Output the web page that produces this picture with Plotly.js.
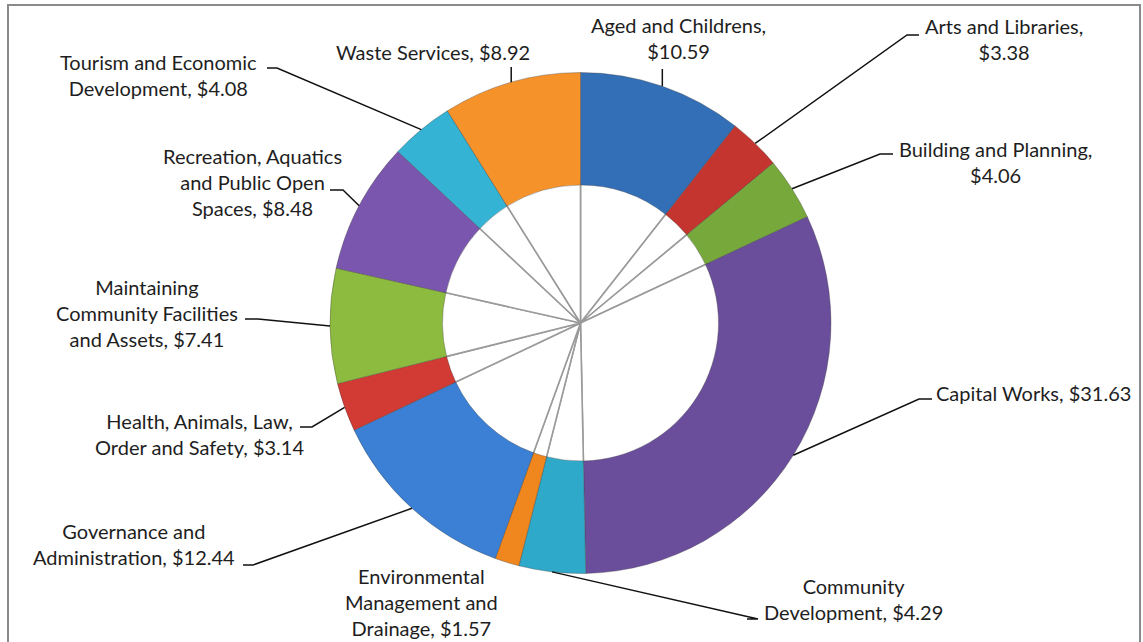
<!DOCTYPE html>
<html>
<head>
<meta charset="utf-8">
<script src="https://cdn.plot.ly/plotly-3.0.1.min.js"></script>
<style>html,body{margin:0;padding:0;background:#fff;}#chart{width:1143px;height:642px;}</style>
</head>
<body>
<div id="chart"></div>
<script>
// ---- data ----
const categories = [
  "Aged and Childrens",
  "Arts and Libraries",
  "Building and Planning",
  "Capital Works",
  "Community Development",
  "Environmental Management and Drainage",
  "Governance and Administration",
  "Health, Animals, Law, Order and Safety",
  "Maintaining Community Facilities and Assets",
  "Recreation, Aquatics and Public Open Spaces",
  "Tourism and Economic Development",
  "Waste Services"
];
const values = [10.59, 3.38, 4.06, 31.63, 4.29, 1.57, 12.44, 3.14, 7.41, 8.48, 4.08, 8.92];
const labelTexts = [
  "Aged and Childrens,<br>$10.59",
  "Arts and Libraries,<br>$3.38",
  "Building and Planning,<br>$4.06",
  "Capital Works, $31.63",
  "Community<br>Development, $4.29",
  "Environmental<br>Management and<br>Drainage, $1.57",
  "Governance and<br>Administration, $12.44",
  "Health, Animals, Law,<br>Order and Safety, $3.14",
  "Maintaining<br>Community Facilities<br>and Assets, $7.41",
  "Recreation, Aquatics<br>and Public Open<br>Spaces, $8.48",
  "Tourism and Economic<br>Development, $4.08",
  "Waste Services, $8.92"
];
const colors = ["#336fb6", "#c4352f", "#76a83b", "#6a4e9c", "#2fa9c9", "#ef861e",
                "#3b80d4", "#d23a34", "#8dbb3f", "#7a56ae", "#34b3d5", "#f6922a"];

// ---- layout (pixels) ----
const W = 1143, H = 642;
const CX = 580.5, CY = 323, R = 250.5, RIN = 138;
// label text centre, and leader end: [elbowX, elbowY, endX] (null = no leader, "v" = vertical)
const labelPos = [
  {x: 678, y: 38, lead: "v", ly: 69},
  {x: 1004, y: 39, lead: [907, 35, 919]},
  {x: 995, y: 162, lead: [880, 154, 893]},
  {x: 1033, y: 393, lead: [919, 399, 932]},
  {x: 853, y: 599, lead: [758, 619, 747]},
  {x: 421, y: 602, lead: null},
  {x: 134, y: 544, lead: [253, 565, 243]},
  {x: 199, y: 434, lead: [312, 427, 300]},
  {x: 147, y: 313, lead: [258, 319, 245]},
  {x: 252, y: 182, lead: [343, 190, 330]},
  {x: 158, y: 75, lead: [277, 68, 267]},
  {x: 433, y: 52, lead: "v", ly: 67}
];

const px = v => v / W;
const py = v => 1 - v / H;

const total = values.reduce((a, b) => a + b, 0);

const outer = {
  type: "pie",
  labels: categories,
  values: values,
  sort: false,
  direction: "clockwise",
  rotation: 0,
  hole: RIN / R,
  textinfo: "none",
  hoverinfo: "label+value",
  marker: {colors: colors, line: {color: "rgba(60,60,60,0.35)", width: 1}},
  domain: {x: [px(CX - R), px(CX + R)], y: [py(CY + R), py(CY - R)]},
  showlegend: false
};
const RI = RIN + 3;
const inner = {
  type: "pie",
  labels: categories,
  values: values,
  sort: false,
  direction: "clockwise",
  rotation: 0,
  textinfo: "none",
  hoverinfo: "skip",
  marker: {colors: categories.map(() => "#ffffff"), line: {color: "#9a9a9a", width: 1.6}},
  domain: {x: [px(CX - RI), px(CX + RI)], y: [py(CY + RI), py(CY - RI)]},
  showlegend: false
};

const annotations = [];
const shapes = [];
let cum = 0;
values.forEach((v, i) => {
  const mid = cum + v / 2;
  cum += v;
  const th = 2 * Math.PI * mid / total;
  const sx = CX + R * Math.sin(th);
  const sy = CY - R * Math.cos(th);
  const lp = labelPos[i];
  annotations.push({
    xref: "paper", yref: "paper", x: px(lp.x), y: py(lp.y),
    xanchor: "center", yanchor: "middle", showarrow: false, align: "center",
    text: labelTexts[i],
    font: {family: "Lato, 'Open Sans', sans-serif", size: 20, color: "#1e1e1e"}
  });
  if (lp.lead === "v") {
    shapes.push({type: "line", xref: "paper", yref: "paper",
      x0: px(sx), y0: py(sy), x1: px(sx), y1: py(lp.ly),
      line: {color: "#111", width: 1.5}});
  } else if (lp.lead) {
    const [ex, ey, hx] = lp.lead;
    shapes.push({type: "path", xref: "paper", yref: "paper",
      path: `M ${px(sx)},${py(sy)} L ${px(ex)},${py(ey)} L ${px(hx)},${py(ey)}`,
      line: {color: "#111", width: 1.5}});
  }
});
// chart frame
shapes.push({type: "rect", xref: "paper", yref: "paper",
  x0: px(8), x1: px(1140), y0: py(5), y1: py(660),
  line: {color: "#8a8a8a", width: 2}, fillcolor: "rgba(0,0,0,0)", layer: "below"});

const layout = {
  width: W, height: H,
  margin: {l: 0, r: 0, t: 0, b: 0},
  paper_bgcolor: "#ffffff",
  plot_bgcolor: "#ffffff",
  showlegend: false,
  annotations: annotations,
  shapes: shapes
};

Plotly.newPlot("chart", [inner, outer], layout, {displayModeBar: false, staticPlot: true});
</script>
</body>
</html>
